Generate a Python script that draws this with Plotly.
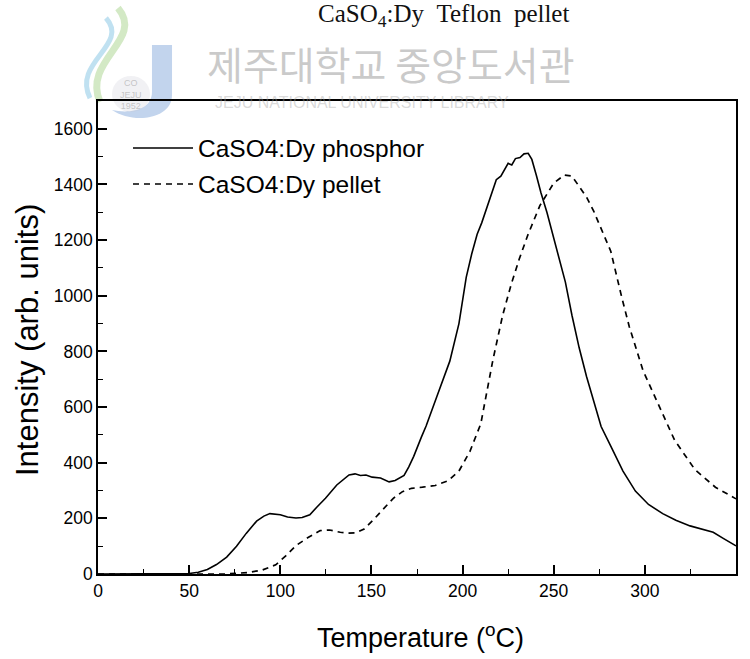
import plotly.graph_objects as go

# ---- data ----
phosphor_T = [0, 20, 40, 50, 55, 60, 65, 70.6, 76, 81.3, 87, 91, 94.3, 100, 104, 108.6, 112, 116.2, 120,
              124.8, 131, 137.7, 141, 144, 147, 150.4, 155, 159.7, 163, 167.9, 170.5, 173.2, 177.4, 180,
              186, 193, 198, 202, 205, 208, 210.5, 213.4, 216, 218.5, 221, 223, 225, 227, 229, 231.5,
              233.7, 236, 238, 240.5, 243, 246.3, 251, 256.4, 260, 264, 268, 272, 276, 281.7, 288, 294.8,
              302, 309.8, 317, 324.8, 331, 337.5, 343, 350]
phosphor_I = [0, 0, 0, 2, 6, 16, 34, 61, 100, 146, 190, 208, 217, 213, 205, 201, 203, 213, 240,
              272, 320, 356, 360, 354, 356, 348, 345, 331, 336, 354, 385, 423, 492, 532,
              640, 765, 900, 1066, 1150, 1221, 1262, 1319, 1370, 1417, 1430, 1455, 1476, 1470, 1493, 1497,
              1510, 1512, 1490, 1432, 1370, 1299, 1180, 1049, 930, 812, 710, 619, 530, 454, 370, 298,
              250, 217, 193, 173, 162, 150, 128, 101]

pellet_T = [0, 50, 70, 81.7, 90, 97.5, 103, 108.8, 115, 121.9, 127, 132.9, 137, 141.6, 146, 150.8,
            157.8, 162, 167, 172, 178, 185, 192, 198, 204, 210, 216.6, 222, 226.8, 231, 235.6, 242.4,
            249.9, 255.8, 260, 264.2, 268, 272, 281.3, 287.3, 291.5, 299, 307, 316.3, 327.5, 338.7, 350]
pellet_I = [0, 0, 0, 5, 14, 33, 65, 103, 130, 156, 158, 150, 147, 148, 162, 193,
            240, 272, 296, 308, 312, 318, 335, 370, 440, 540, 768, 930, 1044, 1130, 1215, 1324,
            1404, 1434, 1430, 1392, 1355, 1303, 1160, 995, 888, 731, 613, 481, 375, 312, 270]

x_ticks = [0, 50, 100, 150, 200, 250, 300, 350]
y_ticks = [0, 200, 400, 600, 800, 1000, 1200, 1400, 1600]
series_names = ["CaSO4:Dy phosphor", "CaSO4:Dy pellet"]

# ---- layout geometry ----
W, H = 750, 659
L, R, T, B = 98, 14, 101, 85
PW, PH = W - L - R, H - T - B


def px(x):
    return (x - L) / PW


def py(y):
    return (H - B - y) / PH


FONT = "Liberation Sans Narrow, Arial Narrow, Liberation Sans, Arial, sans-serif"

fig = go.Figure()
fig.add_trace(go.Scatter(x=phosphor_T, y=phosphor_I, mode="lines", name=series_names[0],
                         line=dict(color="black", width=1.6), showlegend=False))
fig.add_trace(go.Scatter(x=pellet_T, y=pellet_I, mode="lines", name=series_names[1],
                         line=dict(color="black", width=1.7, dash="6px,5px"), showlegend=False))

axis_common = dict(showline=True, linecolor="black", linewidth=1.6, mirror=True,
                   ticks="inside", tickcolor="black", tickwidth=1.5,
                   showgrid=False, zeroline=False,
                   tickfont=dict(family=FONT, size=17.5, color="black"))

fig.update_xaxes(range=[0, 350], tickvals=x_ticks, ticklen=9,
                 minor=dict(dtick=25, ticks="inside", ticklen=5, tickcolor="black", tickwidth=1.3),
                 **axis_common)
fig.update_yaxes(range=[0, 1700], tickvals=y_ticks, ticklen=9,
                 minor=dict(dtick=100, ticks="inside", ticklen=5, tickcolor="black", tickwidth=1.3),
                 **axis_common)

shapes = []
annotations = []

# legend (manual, long line samples)
leg_y = [148, 184]
for i, (yy, dash) in enumerate(zip(leg_y, ["solid", "6px,5px"])):
    shapes.append(dict(type="line", xref="paper", yref="paper",
                       x0=px(133), x1=px(193), y0=py(yy), y1=py(yy),
                       line=dict(color="black", width=1.6, dash=dash)))
    annotations.append(dict(xref="paper", yref="paper", x=px(196), y=py(yy), xanchor="left",
                            yanchor="middle", text=series_names[i], showarrow=False,
                            font=dict(family=FONT, size=24.5, color="black")))

# axis titles
annotations.append(dict(xref="paper", yref="paper", x=px(420), y=py(636), xanchor="center",
                        yanchor="middle", showarrow=False,
                        text="Temperature (<sup>o</sup>C)",
                        font=dict(family=FONT, size=27, color="black")))
annotations.append(dict(xref="paper", yref="paper", x=px(27), y=py(340), xanchor="center",
                        yanchor="middle", showarrow=False, textangle=-90,
                        text="Intensity (arb. units)",
                        font=dict(family=FONT, size=31, color="black")))

# caption at top of the scanned page
annotations.append(dict(xref="paper", yref="paper", x=px(443), y=py(16), xanchor="center",
                        yanchor="middle", showarrow=False,
                        text="CaSO<sub>4</sub>:Dy\u00a0\u00a0Teflon\u00a0\u00a0pellet",
                        font=dict(family="Liberation Serif, DejaVu Serif, serif", size=25,
                                  color="#111111")))

# library watermark
annotations.append(dict(xref="paper", yref="paper", x=px(391), y=py(63), xanchor="center",
                        yanchor="middle", showarrow=False,
                        text="제주대학교 중앙도서관",
                        font=dict(family="Noto Sans CJK KR", size=39, color="rgba(150,150,150,0.5)")))
annotations.append(dict(xref="paper", yref="paper", x=px(362), y=py(102), xanchor="center",
                        yanchor="middle", showarrow=False,
                        text="JEJU NATIONAL UNIVERSITY LIBRARY",
                        font=dict(family="Liberation Sans", size=16,
                                  color="rgba(160,160,160,0.4)")))
annotations.append(dict(xref="paper", yref="paper", x=px(131), y=py(94), xanchor="center",
                        yanchor="middle", showarrow=False,
                        text="CO<br>JEJU<br>1952",
                        font=dict(family="Liberation Sans", size=9, color="rgba(150,150,150,0.5)")))


def curve_px(p0, c1, c2, p1):
    return (f"M {px(p0[0]):.4f},{py(p0[1]):.4f} C {px(c1[0]):.4f},{py(c1[1]):.4f} "
            f"{px(c2[0]):.4f},{py(c2[1]):.4f} {px(p1[0]):.4f},{py(p1[1]):.4f}")


# logo: J stem and swooshes
shapes.append(dict(type="path", xref="paper", yref="paper",
                   path=(f"M {px(152):.4f},{py(45):.4f} L {px(172):.4f},{py(45):.4f} "
                         f"L {px(172):.4f},{py(95):.4f} C {px(172):.4f},{py(120):.4f} "
                         f"{px(132):.4f},{py(124):.4f} {px(112):.4f},{py(110):.4f} "
                         f"C {px(130):.4f},{py(114):.4f} {px(152):.4f},{py(110):.4f} "
                         f"{px(152):.4f},{py(92):.4f} Z"),
                   fillcolor="rgba(120,160,215,0.45)", line=dict(width=0), layer="below"))
shapes.append(dict(type="circle", xref="paper", yref="paper",
                   x0=px(112), x1=px(150), y0=py(112), y1=py(76),
                   fillcolor="rgba(200,200,210,0.25)", line=dict(width=0), layer="below"))
shapes.append(dict(type="path", xref="paper", yref="paper",
                   path=curve_px((118, 8), (145, 40), (82, 60), (100, 102)),
                   line=dict(color="rgba(175,215,150,0.55)", width=7), layer="below"))
shapes.append(dict(type="path", xref="paper", yref="paper",
                   path=curve_px((106, 18), (130, 45), (72, 62), (90, 98)),
                   line=dict(color="rgba(140,200,230,0.55)", width=5), layer="below"))

fig.update_layout(width=W, height=H, margin=dict(l=L, r=R, t=T, b=B, autoexpand=False),
                  paper_bgcolor="white", plot_bgcolor="rgba(0,0,0,0)",
                  shapes=shapes, annotations=annotations, showlegend=False)

fig.write_html("out.html")
